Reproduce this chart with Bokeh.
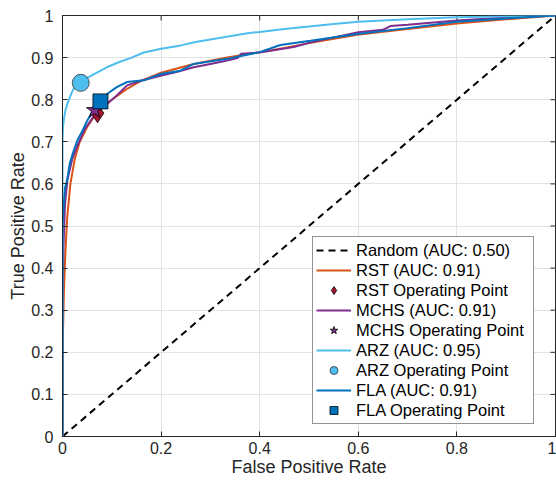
import math
from bokeh.plotting import figure
from bokeh.models import Range1d, FixedTicker, Legend, LegendItem
from bokeh.embed import file_html
from bokeh.resources import INLINE

# ---- data ----
random_fpr = [0.0, 1.0]
random_tpr = [0.0, 1.0]

rst_fpr = [0, 0.001, 0.003, 0.006, 0.0095, 0.016, 0.025, 0.035, 0.05, 0.07, 0.1, 0.13, 0.16, 0.2, 0.266, 0.334, 0.4, 0.45, 0.503, 0.598, 0.7, 0.8, 0.9, 1.0]
rst_tpr = [0, 0.25, 0.35, 0.44, 0.52, 0.6, 0.66, 0.7, 0.735, 0.77, 0.80, 0.825, 0.845, 0.864, 0.885, 0.9, 0.913, 0.923, 0.935, 0.954, 0.968, 0.981, 0.991, 1.0]

mchs_fpr = [0, 0, 0.002, 0.005, 0.01, 0.02, 0.03, 0.045, 0.06, 0.07, 0.09, 0.11, 0.131, 0.165, 0.199, 0.235, 0.266, 0.3, 0.334, 0.355, 0.362, 0.40, 0.469, 0.5, 0.55, 0.6, 0.65, 0.665, 0.7, 0.8, 0.9, 1.0]
mchs_tpr = [0, 0.3, 0.45, 0.55, 0.61, 0.66, 0.69, 0.73, 0.755, 0.77, 0.79, 0.81, 0.834, 0.847, 0.857, 0.867, 0.877, 0.885, 0.893, 0.899, 0.909, 0.912, 0.925, 0.935, 0.948, 0.96, 0.966, 0.975, 0.978, 0.988, 0.995, 1.0]

arz_fpr = [0, 0, 0.001, 0.003, 0.006, 0.01, 0.018, 0.026, 0.037, 0.05, 0.064, 0.09, 0.114, 0.14, 0.165, 0.2, 0.24, 0.27, 0.33, 0.375, 0.40, 0.45, 0.5, 0.55, 0.6, 0.7, 0.8, 0.9, 1.0]
arz_tpr = [0, 0.70, 0.735, 0.755, 0.775, 0.79, 0.815, 0.834, 0.842, 0.852, 0.861, 0.877, 0.889, 0.9, 0.912, 0.921, 0.929, 0.937, 0.949, 0.958, 0.961, 0.968, 0.974, 0.98, 0.985, 0.991, 0.996, 0.998, 1.0]

fla_fpr = [0, 0, 0.002, 0.005, 0.0095, 0.015, 0.023, 0.03, 0.04, 0.05, 0.06, 0.07, 0.08, 0.091, 0.11, 0.131, 0.165, 0.199, 0.239, 0.266, 0.334, 0.40, 0.442, 0.503, 0.598, 0.7, 0.8, 0.9, 1.0]
fla_tpr = [0, 0.50, 0.54, 0.59, 0.61, 0.65, 0.68, 0.703, 0.725, 0.75, 0.77, 0.787, 0.80, 0.814, 0.83, 0.842, 0.846, 0.861, 0.869, 0.885, 0.897, 0.913, 0.93, 0.94, 0.956, 0.97, 0.985, 0.993, 1.0]

op_rst = (0.071, 0.768)
op_mchs = (0.065, 0.775)
op_arz = (0.037, 0.840)
op_fla = (0.077, 0.796)

labels = ["Random (AUC: 0.50)", "RST (AUC: 0.91)", "RST Operating Point",
          "MCHS (AUC: 0.91)", "MCHS Operating Point", "ARZ (AUC: 0.95)",
          "ARZ Operating Point", "FLA (AUC: 0.91)", "FLA Operating Point"]

x_ticks = [0, 0.2, 0.4, 0.6, 0.8, 1.0]
y_ticks = [0, 0.1, 0.2, 0.3, 0.4, 0.5, 0.6, 0.7, 0.8, 0.9, 1.0]

# ---- style ----
FONT = "Liberation Sans"
AX = "#262626"
C_RST, C_MCHS, C_ARZ, C_FLA = "#D95319", "#7E2F8E", "#4DBEEE", "#0072BD"
C_DIAM = "#A2142F"

p = figure(width=556, height=486, output_backend="svg", toolbar_location=None,
           x_range=Range1d(0, 1), y_range=Range1d(0, 1),
           min_border_left=62, min_border_right=1, min_border_top=15, min_border_bottom=50)
p.outline_line_color = AX
p.outline_line_width = 1
p.background_fill_color = "white"
p.border_fill_color = "white"

for ax, ticks in ((p.xaxis[0], x_ticks), (p.yaxis[0], y_ticks)):
    ax.ticker = FixedTicker(ticks=ticks)
    ax.major_label_overrides = {0: "0", 1: "1"}
    ax.major_tick_in = 5
    ax.major_tick_out = 0
    ax.minor_tick_line_color = None
    ax.axis_line_color = AX
    ax.major_tick_line_color = AX
    ax.major_label_text_font = FONT
    ax.major_label_text_font_size = "16px"
    ax.major_label_text_color = AX
    ax.axis_label_text_font = FONT
    ax.axis_label_text_font_size = "18px"
    ax.axis_label_text_font_style = "normal"
    ax.axis_label_text_color = AX
p.xaxis.axis_label = "False Positive Rate"
p.yaxis.axis_label = "True Positive Rate"
p.xaxis.major_label_standoff = 5
p.yaxis.major_label_standoff = 9
p.xaxis.axis_label_standoff = 0
p.yaxis.axis_label_standoff = 0

p.xgrid.ticker = FixedTicker(ticks=x_ticks)
p.ygrid.ticker = FixedTicker(ticks=y_ticks)
p.grid.grid_line_color = "#e3e3e3"
p.grid.grid_line_width = 1

# inward ticks on the top and right edges of the box
p.ray(x=x_ticks, y=[1.0] * len(x_ticks), length=5, length_units="screen",
      angle=-math.pi / 2, line_color=AX, line_width=1)
p.ray(x=[1.0] * len(y_ticks), y=y_ticks, length=5, length_units="screen",
      angle=math.pi, line_color=AX, line_width=1)

r_rand = p.line(random_fpr, random_tpr, line_color="black", line_width=2, line_dash="7 5")
r_rst = p.line(rst_fpr, rst_tpr, line_color=C_RST, line_width=2)
r_mchs = p.line(mchs_fpr, mchs_tpr, line_color=C_MCHS, line_width=2)
r_arz = p.line(arz_fpr, arz_tpr, line_color=C_ARZ, line_width=2)
r_fla = p.line(fla_fpr, fla_tpr, line_color=C_FLA, line_width=2)

m_rst = p.scatter([op_rst[0]], [op_rst[1]], marker="diamond", size=19, fill_color=C_DIAM, line_color="black", line_width=0.8)
m_mchs = p.scatter([op_mchs[0]], [op_mchs[1]], marker="star", size=17, fill_color=C_MCHS, line_color="black", line_width=0.8)
m_arz = p.scatter([op_arz[0]], [op_arz[1]], marker="circle", size=17, fill_color=C_ARZ, line_color="#333333", line_width=0.8)
m_fla = p.scatter([op_fla[0]], [op_fla[1]], marker="square", size=15, fill_color=C_FLA, line_color="black", line_width=0.8)

renderers = [r_rand, r_rst, m_rst, r_mchs, m_mchs, r_arz, m_arz, r_fla, m_fla]
items = [LegendItem(label=l, renderers=[r]) for l, r in zip(labels, renderers)]
legend = Legend(items=items, location=(250, 12),
                label_text_font=FONT, label_text_font_size="16.5px", label_text_color="black",
                glyph_width=35, glyph_height=20, label_height=20, label_width=174,
                label_standoff=5, spacing=0, padding=3, margin=0,
                border_line_color=AX, border_line_width=1, background_fill_alpha=1)
p.add_layout(legend, "center")

open("out.html", "w").write(file_html(p, INLINE))
